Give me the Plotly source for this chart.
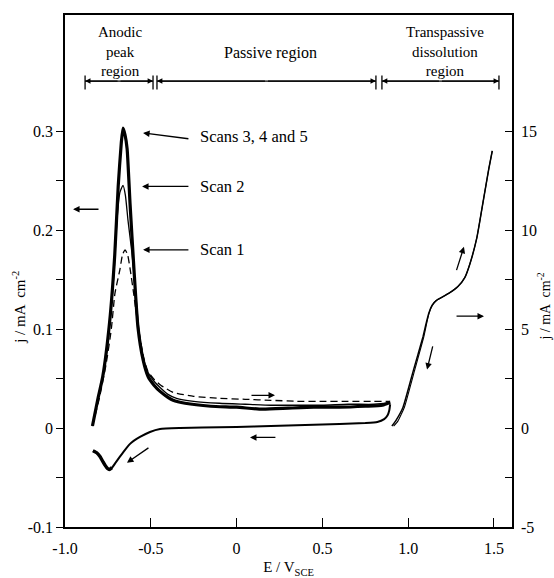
import plotly.graph_objects as go

# ---------------- data ----------------
# forward anodic scans, left axis j / mA cm^-2
scan345_E = [-0.84, -0.81, -0.78, -0.74, -0.71, -0.69, -0.672, -0.662, -0.65, -0.638, -0.621, -0.598,
             -0.575, -0.545, -0.516, -0.48, -0.446, -0.40, -0.37, -0.30, -0.15, 0.0, 0.15, 0.30, 0.45,
             0.60, 0.75, 0.85, 0.895]
scan345_j = [0.002, 0.028, 0.052, 0.107, 0.175, 0.244, 0.288, 0.303, 0.296, 0.282, 0.227, 0.16,
             0.102, 0.069, 0.052, 0.043, 0.037, 0.031, 0.028, 0.025, 0.022, 0.021, 0.019, 0.020, 0.021,
             0.021, 0.022, 0.023, 0.026]

scan2_E = [-0.84, -0.81, -0.78, -0.745, -0.715, -0.697, -0.68, -0.662, -0.648, -0.633, -0.61, -0.59,
           -0.57, -0.545, -0.516, -0.48, -0.446, -0.40, -0.35, -0.25, -0.1, 0.05, 0.2, 0.35, 0.5,
           0.65, 0.8, 0.87, 0.895]
scan2_j = [0.002, 0.027, 0.05, 0.095, 0.155, 0.21, 0.238, 0.245, 0.235, 0.21, 0.177, 0.14,
           0.1, 0.072, 0.056, 0.047, 0.041, 0.034, 0.030, 0.027, 0.025, 0.024, 0.023, 0.023, 0.023,
           0.024, 0.024, 0.025, 0.026]

scan1_E = [-0.84, -0.80, -0.76, -0.73, -0.709, -0.68, -0.665, -0.65, -0.635, -0.62, -0.60, -0.58,
           -0.56, -0.54, -0.516, -0.48, -0.44, -0.37, -0.25, -0.1, 0.05, 0.2, 0.35, 0.5, 0.65,
           0.8, 0.87, 0.895]
scan1_j = [0.002, 0.03, 0.065, 0.1, 0.136, 0.16, 0.175, 0.18, 0.175, 0.16, 0.136, 0.11,
           0.088, 0.07, 0.057, 0.049, 0.043, 0.036, 0.032, 0.030, 0.029, 0.028, 0.027, 0.027, 0.027,
           0.027, 0.027, 0.027]

# reverse (cathodic-going) scan
rev_E = [0.895, 0.89, 0.88, 0.86, 0.82, 0.75, 0.6, 0.4, 0.2, 0.0, -0.2, -0.33, -0.446, -0.505,
         -0.563, -0.60, -0.621, -0.65, -0.68, -0.705, -0.726, -0.742, -0.752, -0.765, -0.779, -0.795,
         -0.815, -0.837]
rev_j = [0.024, 0.018, 0.013, 0.009, 0.006, 0.005, 0.004, 0.003, 0.002, 0.001, 0.0005, 0.0, -0.001,
         -0.004, -0.009, -0.013, -0.016, -0.022, -0.029, -0.035, -0.040, -0.042, -0.041, -0.038,
         -0.034, -0.029, -0.025, -0.023]
# heavier overlapping part of the cathodic dip
dip_E = [-0.726, -0.742, -0.752, -0.765, -0.779, -0.795, -0.815, -0.837]
dip_j = [-0.040, -0.042, -0.041, -0.038, -0.034, -0.029, -0.025, -0.023]

# transpassive region, right axis j / mA cm^-2
trans_fwd_E = [0.905, 0.93, 0.97, 1.03, 1.086, 1.105, 1.12, 1.14, 1.165, 1.20, 1.24, 1.29, 1.33,
               1.36, 1.40, 1.44, 1.47, 1.49]
trans_fwd_R = [0.1, 0.4, 1.05, 2.9, 4.6, 5.3, 5.8, 6.2, 6.45, 6.62, 6.82, 7.15, 7.6,
               8.3, 9.6, 11.6, 13.1, 14.0]
trans_rev_E = [1.49, 1.47, 1.44, 1.40, 1.36, 1.33, 1.29, 1.24, 1.20, 1.165, 1.14, 1.122, 1.108,
               1.091, 1.037, 0.978, 0.94, 0.915]
trans_rev_R = [14.0, 13.1, 11.6, 9.6, 8.3, 7.6, 7.15, 6.82, 6.62, 6.45, 6.2, 5.8, 5.3,
               4.6, 2.9, 1.05, 0.35, 0.1]

# axes ticks
x_ticks = [-1.0, -0.5, 0.0, 0.5, 1.0, 1.5]
x_labels = ["-1.0", "-0.5", "0", "0.5", "1.0", "1.5"]
yl_ticks = [-0.1, -0.05, 0.0, 0.05, 0.1, 0.15, 0.2, 0.25, 0.3]
yl_labels = ["-0.1", "", "0", "", "0.1", "", "0.2", "", "0.3"]
yr_ticks = [-5, -2.5, 0, 2.5, 5, 7.5, 10, 12.5, 15]
yr_labels = ["-5", "", "0", "", "5", "", "10", "", "15"]

# regions
region_start = [-0.883, -0.464, 0.847]
region_end = [-0.487, 0.812, 1.529]
region_center = [-0.674, 0.195, 1.214]
region_text = ["Anodic<br>peak<br>region", "Passive region", "Transpassive<br>dissolution<br>region"]
region_text_j = [0.3805, 0.379, 0.3805]
region_bar_j = 0.3505

# scan labels
scan_labels = ["Scans 3, 4 and 5", "Scan 2", "Scan 1"]
scan_label_j = [0.294, 0.244, 0.180]

# direction arrows: head (E, j) and tail (E, j)
arrow_head_E = [-0.545, -0.551, -0.545, -0.953, 1.442, 0.224, 0.078, -0.639, 1.325, 1.110]
arrow_head_j = [0.298, 0.244, 0.180, 0.221, 0.113, 0.033, -0.0095, -0.035, 0.183, 0.059]
arrow_tail_E = [-0.272, -0.272, -0.272, -0.796, 1.273, 0.078, 0.235, -0.505, 1.279, 1.145]
arrow_tail_j = [0.292, 0.244, 0.180, 0.221, 0.113, 0.033, -0.0095, -0.019, 0.158, 0.084]

# ---------------- figure ----------------
FONT = "Liberation Serif"
fig = go.Figure()

def add_line(x, y, width, dash=None, yaxis="y", smoothing=0.5):
    fig.add_trace(go.Scatter(x=x, y=y, mode="lines", yaxis=yaxis, showlegend=False, hoverinfo="skip",
                             line=dict(color="black", width=width, dash=dash, shape="spline",
                                       smoothing=smoothing)))

add_line(scan1_E, scan1_j, 1.3, dash="7px,4px")
add_line(scan2_E, scan2_j, 1.3)
add_line(scan345_E, scan345_j, 3.2)
add_line(rev_E, rev_j, 2.0, smoothing=0.4)
add_line(dip_E, dip_j, 3.4, smoothing=0.4)
add_line(trans_fwd_E, trans_fwd_R, 1.5, yaxis="y2", smoothing=0.4)
add_line(trans_rev_E, trans_rev_R, 1.1, yaxis="y2", smoothing=0.4)

annotations = []
shapes = []

# region labels and dimension lines
for a, b, c, txt, tj in zip(region_start, region_end, region_center, region_text, region_text_j):
    annotations.append(dict(x=c, y=tj, xref="x", yref="y", text=txt, showarrow=False,
                            xanchor="center", yanchor="middle",
                            font=dict(family=FONT, size=15 if "<br>" in txt else 16, color="black")))
    mid = (a + b) / 2
    shapes.append(dict(type="line", xref="x", yref="y", x0=a, x1=b, y0=region_bar_j, y1=region_bar_j,
                       line=dict(color="black", width=1.2)))
    for end in (a, b):
        annotations.append(dict(x=end, y=region_bar_j, ax=mid, ay=region_bar_j, xref="x", yref="y",
                                axref="x", ayref="y", text="", showarrow=True, arrowhead=2,
                                arrowsize=0.9, arrowwidth=1.2, arrowcolor="black", standoff=0))
        shapes.append(dict(type="line", xref="x", yref="y", x0=end, x1=end,
                           y0=region_bar_j - 0.0085, y1=region_bar_j + 0.0055,
                           line=dict(color="black", width=1.3)))

# scan labels
for txt, sj in zip(scan_labels, scan_label_j):
    annotations.append(dict(x=-0.225, y=sj, xref="x", yref="y", text=txt, showarrow=False,
                            xanchor="left", yanchor="middle",
                            font=dict(family=FONT, size=16.5, color="black")))

# direction arrows
for hx, hy, tx, ty in zip(arrow_head_E, arrow_head_j, arrow_tail_E, arrow_tail_j):
    annotations.append(dict(x=hx, y=hy, ax=tx, ay=ty, xref="x", yref="y", axref="x", ayref="y",
                            text="", showarrow=True, arrowhead=2, arrowsize=1.0, arrowwidth=1.3,
                            arrowcolor="black", standoff=0))

# y axis titles
annotations.append(dict(x=-0.103, y=0.43, xref="paper", yref="paper", text="j / mA  cm<sup>-2</sup>",
                        textangle=-90, showarrow=False, xanchor="center", yanchor="middle",
                        font=dict(family=FONT, size=15, color="black")))
annotations.append(dict(x=1.071, y=0.43, xref="paper", yref="paper", text="j / mA  cm<sup>-2</sup>",
                        textangle=-90, showarrow=False, xanchor="center", yanchor="middle",
                        font=dict(family=FONT, size=14, color="black")))

fig.update_layout(
    width=554, height=578,
    margin=dict(l=65, r=42, t=15, b=51, autoexpand=False),
    paper_bgcolor="white", plot_bgcolor="white",
    font=dict(family=FONT, size=16, color="black"),
    xaxis=dict(range=[-1.0, 1.605], tickvals=x_ticks, ticktext=x_labels, ticks="inside", ticklen=9,
               tickwidth=1.3, tickcolor="black", showline=True, linecolor="black", linewidth=1.5,
               mirror=True, showgrid=False, zeroline=False, ticklabelstandoff=6, automargin=False,
               tickfont=dict(family=FONT, size=16),
               title=dict(text="E / V<sub>SCE</sub>", standoff=6, font=dict(family=FONT, size=15))),
    yaxis=dict(range=[-0.1, 0.4172], tickvals=yl_ticks, ticktext=yl_labels, ticks="outside", ticklen=7,
               tickwidth=1.3, tickcolor="black", showline=True, linecolor="black", linewidth=1.5,
               showgrid=False, zeroline=False, automargin=False, tickfont=dict(family=FONT, size=16)),
    yaxis2=dict(range=[-5, 20.86], tickvals=yr_ticks, ticktext=yr_labels, ticks="inside", ticklen=7,
                tickwidth=1.3, tickcolor="black", showline=True, linecolor="black", linewidth=1.5,
                showgrid=False, zeroline=False, overlaying="y", side="right", ticklabelstandoff=4,
                automargin=False, tickfont=dict(family=FONT, size=16)),
    annotations=annotations, shapes=shapes,
)

fig.write_html("out.html")
